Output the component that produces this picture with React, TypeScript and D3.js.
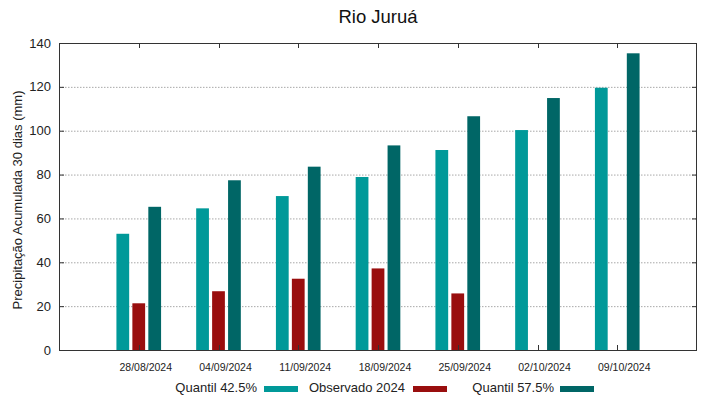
import React, { useEffect, useRef } from 'react';
import * as d3 from 'd3';

const dates = ['28/08/2024', '04/09/2024', '11/09/2024', '18/09/2024', '25/09/2024', '02/10/2024', '09/10/2024'];
const quantil425 = [53, 64.6, 70.2, 78.9, 91.2, 100.3, 119.6];
const observado2024: (number | null)[] = [21.3, 26.8, 32.5, 37.2, 25.8, null, null];
const quantil575 = [65.3, 77.4, 83.6, 93.3, 106.6, 114.9, 135.3];
const yTicks = [0, 20, 40, 60, 80, 100, 120, 140];

const seriesNames = ['Quantil 42.5%', 'Observado 2024', 'Quantil 57.5%'];
const colors = ['#009999', '#990e0e', '#006666'];

function App() {
  const svgRef = useRef<SVGSVGElement>(null);

  useEffect(() => {
    const svg = d3.select(svgRef.current);
    svg.selectAll('*').remove();

    const left = 59, right = 697, top = 43, bottom = 350;
    const font = 'Liberation Sans, Arial, sans-serif';

    const x = d3.scaleLinear().domain([-1, 7]).range([left, right]);
    const y = d3.scaleLinear().domain([0, 140]).range([bottom, top]);

    // grid
    svg.append('g')
      .selectAll('line')
      .data(yTicks.filter((t) => t > 0 && t < 140))
      .enter()
      .append('line')
      .attr('x1', left).attr('x2', right)
      .attr('y1', (d) => y(d) + 0.5).attr('y2', (d) => y(d) + 0.5)
      .attr('stroke', '#a8a8a8')
      .attr('stroke-width', 1)
      .attr('stroke-dasharray', '1.5,1.5');

    // bars
    const series = [quantil425, observado2024, quantil575];
    const barW = x(0.16) - x(0);
    series.forEach((vals, s) => {
      svg.append('g')
        .selectAll('rect')
        .data(vals.map((v, i) => ({ v, i })).filter((d) => d.v !== null))
        .enter()
        .append('rect')
        .attr('x', (d) => x(d.i + (s - 1) * 0.2) - barW / 2)
        .attr('y', (d) => y(d.v as number))
        .attr('width', barW)
        .attr('height', (d) => bottom - y(d.v as number))
        .attr('fill', colors[s]);
    });

    // frame
    svg.append('rect')
      .attr('x', left + 0.5).attr('y', top + 0.5)
      .attr('width', right - left - 1).attr('height', bottom - top)
      .attr('fill', 'none')
      .attr('stroke', '#333')
      .attr('stroke-width', 1);

    // y ticks left & right
    const yt = svg.append('g');
    yTicks.forEach((t) => {
      yt.append('line').attr('x1', left).attr('x2', left + 5)
        .attr('y1', y(t) + 0.5).attr('y2', y(t) + 0.5).attr('stroke', '#333');
      yt.append('line').attr('x1', right - 5).attr('x2', right)
        .attr('y1', y(t) + 0.5).attr('y2', y(t) + 0.5).attr('stroke', '#333');
      yt.append('text')
        .attr('x', 51).attr('y', y(t) + 4.5)
        .attr('text-anchor', 'end')
        .attr('font-family', font).attr('font-size', 13)
        .attr('fill', '#222')
        .text(t);
    });

    // x ticks top & bottom
    const xt = svg.append('g');
    dates.forEach((dt, i) => {
      const px = Math.round(x(i)) + 0.5;
      xt.append('line').attr('x1', px).attr('x2', px)
        .attr('y1', top).attr('y2', top + 5).attr('stroke', '#333');
      xt.append('line').attr('x1', px).attr('x2', px)
        .attr('y1', bottom - 5).attr('y2', bottom).attr('stroke', '#333');
      xt.append('text')
        .attr('x', x(i) + 7).attr('y', 371)
        .attr('text-anchor', 'middle')
        .attr('font-family', font).attr('font-size', 10.5)
        .attr('fill', '#222')
        .text(dt);
    });

    // title
    svg.append('text')
      .attr('x', 378).attr('y', 23)
      .attr('text-anchor', 'middle')
      .attr('font-family', font).attr('font-size', 18.5)
      .attr('fill', '#111')
      .text('Rio Juruá');

    // y label
    svg.append('text')
      .attr('transform', 'translate(22,200) rotate(-90)')
      .attr('text-anchor', 'middle')
      .attr('font-family', font).attr('font-size', 13)
      .attr('fill', '#222')
      .text('Precipitação Acumulada 30 dias (mm)');

    // legend
    const legendText = [257, 405, 554];
    const legendSample = [264, 413, 560];
    const legend = svg.append('g');
    seriesNames.forEach((name, s) => {
      legend.append('text')
        .attr('x', legendText[s]).attr('y', 392)
        .attr('text-anchor', 'end')
        .attr('font-family', font).attr('font-size', 13)
        .attr('fill', '#222')
        .text(name);
      legend.append('rect')
        .attr('x', legendSample[s]).attr('y', 386)
        .attr('width', 34).attr('height', 6)
        .attr('fill', colors[s]);
    });
  }, []);

  return (
    <svg ref={svgRef} width={719} height={399}
      style={{ position: 'absolute', left: 0, top: 0, background: '#fff' }} />
  );
}

export default App;
